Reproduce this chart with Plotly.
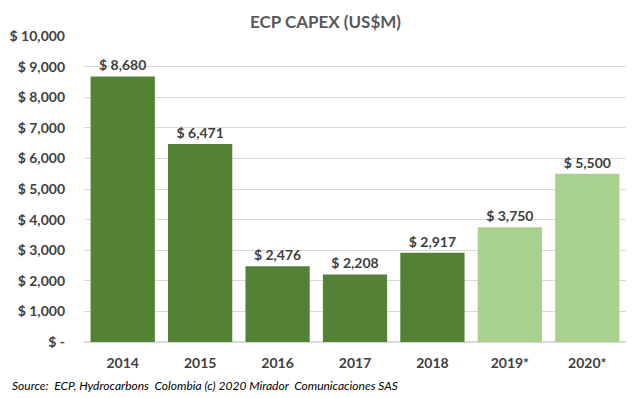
import plotly.graph_objects as go

years = ["2014", "2015", "2016", "2017", "2018", "2019*", "2020*"]
capex = [8680, 6471, 2476, 2208, 2917, 3750, 5500]
colors = ["#548235"] * 5 + ["#A9D18E"] * 2
tick_vals = [0, 1000, 2000, 3000, 4000, 5000, 6000, 7000, 8000, 9000, 10000]
tick_text = ["$ -"] + [f"$ {v:,}" for v in tick_vals[1:]]
labels = [f"$ {v:,}" for v in capex]

# page body has an 8px margin, so the figure is sized/offset to compensate
W, H = 635, 390
ML, MR, MT, MB = 76, 17, 28, 56

fig = go.Figure(go.Bar(
    x=years, y=capex, marker_color=colors, marker_line_width=0,
    text=labels, textposition="outside", cliponaxis=False,
    textfont=dict(family="Lato", size=14, color="#404040", weight="bold"),
))
fig.update_layout(
    width=W, height=H,
    margin=dict(l=ML, r=MR, t=MT, b=MB),
    plot_bgcolor="white", paper_bgcolor="white",
    bargap=0.17,
    showlegend=False,
    title=dict(text="<b>ECP CAPEX (US$M)</b>", x=0.5, xanchor="center", y=1 - 14 / H, yanchor="middle",
               font=dict(family="Lato", size=17, color="#595959")),
    font=dict(family="Lato", color="#404040"),
)
fig.update_yaxes(range=[0, 10000], tickvals=tick_vals, ticktext=tick_text, automargin=False,
                 showgrid=True, gridcolor="#D9D9D9", gridwidth=1, zeroline=True,
                 zerolinecolor="#D9D9D9", ticks="", ticklabelstandoff=18,
                 tickfont=dict(family="Lato", size=14, color="#404040", weight="bold"))
fig.update_xaxes(showline=True, linecolor="#D9D9D9", ticks="", ticklabelstandoff=8, automargin=False,
                 tickfont=dict(family="Lato", size=14, color="#404040", weight="bold"))
plot_w = W - ML - MR
plot_h = H - MT - MB
fig.add_annotation(text="<i>Source:  ECP, Hydrocarbons  Colombia (c) 2020 Mirador  Comunicaciones SAS</i>",
                   xref="paper", yref="paper", x=-(ML - 2) / plot_w, y=-43 / plot_h,
                   xanchor="left", yanchor="middle",
                   showarrow=False, font=dict(family="Lato", size=12, color="#000000"))
fig.write_html("out.html")
